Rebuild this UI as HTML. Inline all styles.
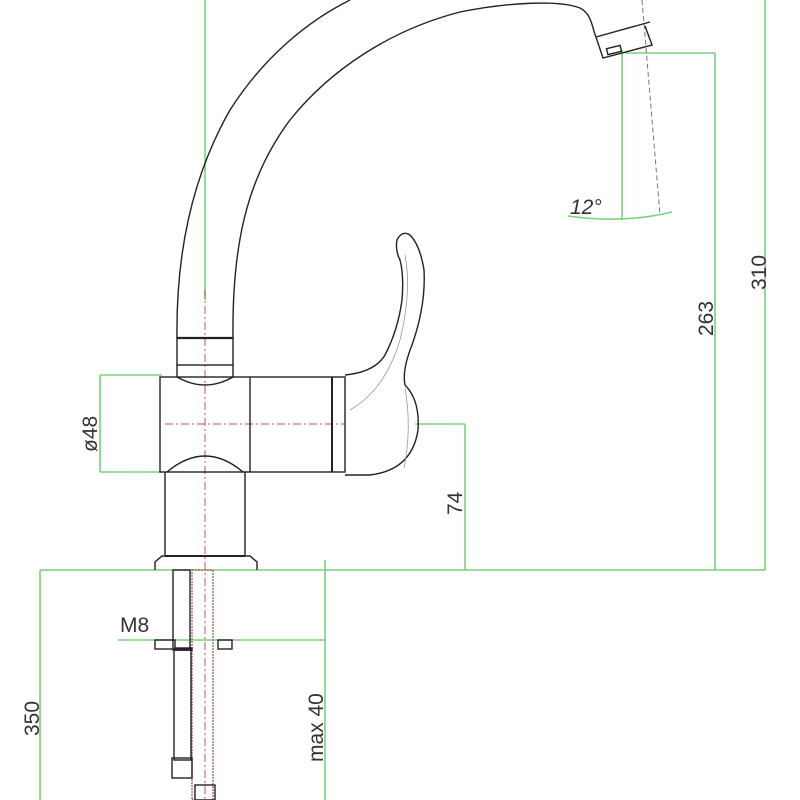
<!DOCTYPE html>
<html><head><style>html,body{margin:0;padding:0;background:#fff}svg{display:block}</style></head>
<body>
<svg width="800" height="800" viewBox="0 0 800 800" xmlns="http://www.w3.org/2000/svg" font-family="Liberation Sans, sans-serif">
<g stroke="#7ccf7c" stroke-width="1.6" fill="none">
  <line x1="205" y1="0" x2="205" y2="300"/>
  <line x1="40" y1="570" x2="765" y2="570"/>
  <line x1="765" y1="0" x2="765" y2="570"/>
  <line x1="715" y1="53" x2="715" y2="570"/>
  <line x1="625" y1="53" x2="715" y2="53"/>
  <line x1="622" y1="50" x2="622" y2="220"/>
  <path d="M568 216 Q622 224 672 212"/>
  <line x1="465" y1="424" x2="465" y2="570"/>
  <line x1="415" y1="424" x2="465" y2="424"/>
  <line x1="100" y1="375" x2="100" y2="472"/>
  <line x1="100" y1="375" x2="162" y2="375"/>
  <line x1="100" y1="472" x2="162" y2="472"/>
  <line x1="325" y1="560" x2="325" y2="800"/>
  <line x1="118" y1="640" x2="325" y2="640"/>
  <line x1="40" y1="570" x2="40" y2="800"/>
</g>
<g stroke="#c05050" stroke-width="1" fill="none" stroke-dasharray="8 3 2 3">
  <line x1="205" y1="290" x2="205" y2="800"/>
  <line x1="165" y1="424" x2="345" y2="424"/>
</g>
<line x1="642" y1="0" x2="660" y2="215" stroke="#777" stroke-width="1" stroke-dasharray="5 3"/>
<g stroke="#222" stroke-width="1.4" fill="none">
  <path d="M177 338 C176 260 190 180 230 110 C265 55 310 20 350 0"/>
  <path d="M233 338 C232 250 245 180 290 120 C330 70 390 30 460 12 C510 2 560 0 580 8 C592 14 592 28 596 37"/>
  <path d="M596 37 L650 22 M596 37 L603 58 L652 45 L645 26"/>
  <rect x="607" y="47" width="14" height="6" transform="rotate(-14 614 50)"/>
  <rect x="177" y="338" width="56" height="27"/>
  <line x1="177" y1="338" x2="233" y2="338" stroke-width="2.2"/>
  <path d="M177 365 L177 377 M233 365 L233 377"/>
  <path d="M177 377 Q205 393 233 377"/>
  <rect x="160" y="377" width="185" height="95"/>
  <line x1="250" y1="377" x2="250" y2="472"/>
  <line x1="332" y1="377" x2="332" y2="472" stroke-width="2"/>
  <path d="M345 375 Q375 372 385 355 Q398 330 402 300 Q404 275 400 260 Q395 250 397 240 Q402 230 410 235 Q420 245 424 270 Q426 305 412 345 Q402 370 405 385 Q420 400 418 430 Q412 470 370 475 L345 475"/>
  <path d="M350 410 Q385 390 400 340 Q412 290 405 255" stroke="#999" stroke-width="0.8"/>
  <path d="M405 388 Q412 428 404 468" stroke="#999" stroke-width="0.8"/>
  <path d="M165 472 L165 555 M245 472 L245 555"/>
  <path d="M167 472 Q205 440 243 472"/>
  <path d="M155 570 L155 562 L162 556 L250 556 L257 562 L257 570"/>
  <line x1="165" y1="556" x2="245" y2="556" stroke-width="2"/>
  <rect x="173" y="570" width="17" height="80"/>
  <rect x="192" y="570" width="21" height="230" stroke="#a66" stroke-dasharray="2 1"/>
  <rect x="174" y="650" width="17" height="110"/>
  <rect x="172" y="758" width="20" height="20"/>
  <rect x="155" y="640" width="20" height="9"/>
  <rect x="218" y="640" width="14" height="9"/>
  <rect x="175" y="648" width="17" height="2" fill="#222"/>
  <rect x="195" y="785" width="20" height="15"/>
</g>
<g fill="#333" font-size="21">
  <text x="570" y="214" font-style="italic">12°</text>
  <text x="120" y="632">M8</text>
  <text transform="translate(766,290) rotate(-90)">310</text>
  <text transform="translate(713,336) rotate(-90)">263</text>
  <text transform="translate(462,515) rotate(-90)">74</text>
  <text transform="translate(97,452) rotate(-90)">ø48</text>
  <text transform="translate(323,762) rotate(-90)">max 40</text>
  <text transform="translate(39,736) rotate(-90)">350</text>
</g>
</svg>
</body></html>
